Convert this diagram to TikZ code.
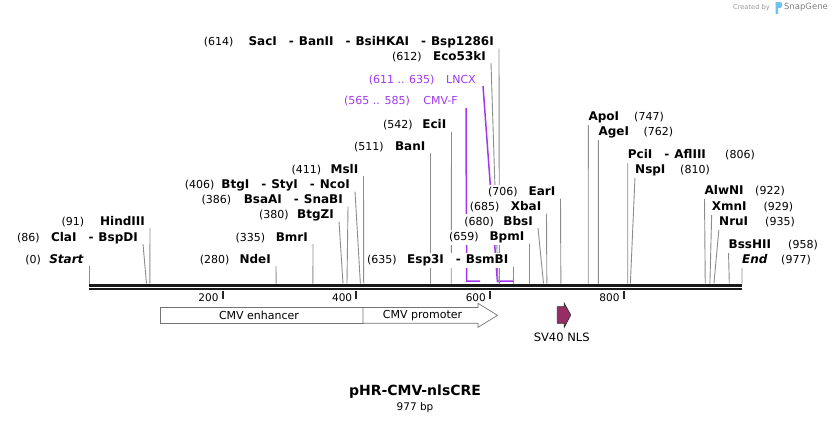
\documentclass[tikz,border=0pt]{standalone}
\usepackage{fontspec}
\setmainfont{DejaVu Sans}
\usepackage{xcolor}
\definecolor{colPrimer}{RGB}{163,55,240}
\definecolor{colNLS}{RGB}{150,45,100}
\definecolor{colLogo}{RGB}{110,195,240}
\colorlet{colSite}{black!45}
\colorlet{colFeat}{black!55}
\usepackage{tikz}
\usetikzlibrary{calc}

\pgfdeclarelayer{labels}
\pgfsetlayers{main,labels}

\tikzset{
  lbl/.style={inner xsep=2pt, inner ysep=2.6pt, fill=white, text height=8pt, text depth=2pt, font=\fontsize{11}{13}\selectfont},
  siteln/.style={colSite, line width=0.9pt},
  primer/.style={colPrimer, line width=1.5pt},
  tickln/.style={black!85, line width=2pt},
  feat/.style={colFeat, line width=0.7pt, fill=white}
}

\newcommand{\nmb}[1]{{\fontsize{12}{13}\bfseries\selectfont #1}}
\newcommand{\sitesep}{\hspace{12pt}-\hspace{5pt}}
% left label: id, bp, top x, label y, x of number, number, names
\newcommand{\lsite}[7]{%
  \coordinate (s#1) at ({bpx(#2)},283.5);
  \coordinate (t#1) at (#3,#4+6.5);
  \draw[siteln] (t#1) -- (s#1);
  \pgfmathsetmacro{\lblw}{#3-5-#5}
  \begin{pgfonlayer}{labels}
  \node[lbl, anchor=east] (n#1) at (#3-3,#4+0.5) {\hbox to \lblw pt{(#6)\hfill\nmb{#7}}};
  \end{pgfonlayer}}
% right label: id, bp, top x, label y, names, x of number, number
\newcommand{\rsite}[7]{%
  \coordinate (s#1) at ({bpx(#2)},283.5);
  \coordinate (t#1) at (#3,#4+6.5);
  \draw[siteln] (t#1) -- (s#1);
  \pgfmathsetmacro{\lblw}{#6+29.6-#3}
  \begin{pgfonlayer}{labels}
  \node[lbl, anchor=west] (n#1) at (#3-2,#4+0.5) {\hbox to \lblw pt{\nmb{#5}\hfill(#7)}};
  \end{pgfonlayer}}

\begin{document}
\begin{tikzpicture}[x=1pt, y=-1pt, declare function={bpx(\b)=89+\b*0.66837;}]
\useasboundingbox (0,0) rectangle (832,423);

% primers
\coordinate (tcmvf) at (466,108);
\coordinate (cmvfA) at ({bpx(565)},281);
\coordinate (cmvfB) at ({bpx(585)},281);
\draw[primer] (tcmvf) -- (cmvfA) -- (cmvfB);
\coordinate (tlncx) at (483,86);
\coordinate (lncxA) at ({bpx(611)},281);
\coordinate (lncxB) at ({bpx(635)},281);
\draw[primer] (tlncx) -- (lncxA) -- (lncxB);
\begin{pgfonlayer}{labels}
\node[lbl, anchor=east, text=colPrimer] (ncmvf) at (460,101.5) {\hbox to 113.7pt{(565 .. 585)\hfill CMV-F}};
\node[lbl, anchor=east, text=colPrimer] (nlncx) at (478,80.5) {\hbox to 107pt{(611 .. 635)\hfill LNCX}};
\end{pgfonlayer}

\lsite{start}{0}{89}{259.5}{25.5}{0}{\textit{Start}}
\lsite{cla}{86}{143}{237.5}{17.3}{86}{ClaI\sitesep BspDI}
\lsite{hind}{91}{150}{221.5}{61.7}{91}{HindIII}
\lsite{nde}{280}{276}{259.5}{200}{280}{NdeI}
\lsite{bmr}{335}{313}{237.5}{235.7}{335}{BmrI}
\lsite{btgz}{380}{339}{215}{259.3}{380}{BtgZI}
\lsite{bsaa}{386}{348}{200}{201.7}{386}{BsaAI\sitesep SnaBI}
\lsite{btg}{406}{355}{185}{185}{406}{BtgI\sitesep StyI\sitesep NcoI}
\lsite{msl}{411}{363.5}{169.5}{291.7}{411}{MslI}
\lsite{ban}{511}{430.5}{146.5}{354.3}{511}{BanI}
\lsite{eci}{542}{451.5}{125}{383.3}{542}{EciI}
\lsite{eco}{612}{491}{56.5}{392.3}{612}{Eco53kI}
\lsite{sac}{614}{499}{42}{204}{614}{SacI\sitesep BanII\sitesep BsiHKAI\sitesep Bsp1286I}
\lsite{esp}{635}{513.5}{260}{367.3}{635}{Esp3I\sitesep BsmBI}
\lsite{bpm}{659}{529.5}{237}{449.3}{659}{BpmI}
\lsite{bbs}{680}{538}{221.5}{464.5}{680}{BbsI}
\lsite{xba}{685}{546.5}{207}{470}{685}{XbaI}
\lsite{ear}{706}{560.5}{192}{488.3}{706}{EarI}

\rsite{apo}{747}{588.3}{116.7}{ApoI}{634}{747}
\rsite{age}{762}{598.3}{132.3}{AgeI}{643.3}{762}
\rsite{pci}{806}{627.7}{155}{PciI\sitesep AflIII}{725}{806}
\rsite{nsp}{810}{635}{170}{NspI}{680}{810}
\rsite{alwn}{922}{704.5}{191}{AlwNI}{755}{922}
\rsite{xmn}{929}{711.7}{206.7}{XmnI}{763.3}{929}
\rsite{nru}{935}{719}{221.7}{NruI}{765}{935}
\rsite{bsshii}{958}{728.5}{245}{BssHII}{788}{958}
\rsite{end}{977}{742}{260}{\textit{End}}{781}{977}

% backbone
\draw[black!90, line width=2.7pt] ({bpx(0)},285.3) -- ({bpx(977)},285.3);
\draw[black!90, line width=1.6pt] ({bpx(0)},288.7) -- ({bpx(977)},288.7);
\foreach \t in {200,400,600,800} {
  \draw[tickln] ({bpx(\t)},291) -- ({bpx(\t)},298.5);
  \node[inner sep=0pt, anchor=east, font=\fontsize{10.5}{12}\selectfont] (tk\t) at ({bpx(\t)-4},297.5) {\t};
}

% features
\draw[feat] (160,307.5) rectangle (363,323.3);
\node[inner sep=0pt, font=\fontsize{11}{13}\selectfont] (enh) at (259,315.5) {CMV enhancer};
\draw[feat] (363,307.5) -- (478,307.5) -- (478,303.3) -- (497.5,315.4) -- (478,327.3) -- (478,323.3) -- (363,323.3) -- cycle;
\node[inner sep=0pt, font=\fontsize{11}{13}\selectfont] (prom) at (422.5,315.5) {CMV promoter};
\draw[fill=colNLS, draw=black!80, line width=0.7pt] (557.3,306.7) -- (564.3,306.7) -- (564.3,303.3) -- (570.7,315) -- (564.3,327.3) -- (564.3,323.3) -- (557.3,323.3) -- cycle;
\node[inner sep=0pt, font=\fontsize{11.5}{13}\selectfont] (nls) at (561.7,337) {SV40 NLS};

% title
\node[font=\fontsize{14}{16}\bfseries\selectfont, inner sep=0pt] (title) at (415,392) {pHR-CMV-nlsCRE};
\node[font=\fontsize{10.5}{12}\selectfont, inner sep=0pt] (len) at (415,407.5) {977 bp};

% watermark
\node[font=\fontsize{6.7}{8}\selectfont, black!40, inner sep=0pt] (made) at (751.5,7.5) {Created by};
\fill[colLogo] (775.5,2) rectangle (778,14) (778,2) -- (780,2) .. controls (783,2) and (783,8) .. (780,8) -- (778,8) -- cycle;
\node[font=\fontsize{8.5}{10}\selectfont, black!50, inner sep=0pt] (snap) at (806,7.5) {SnapGene};
\end{tikzpicture}
\end{document}
